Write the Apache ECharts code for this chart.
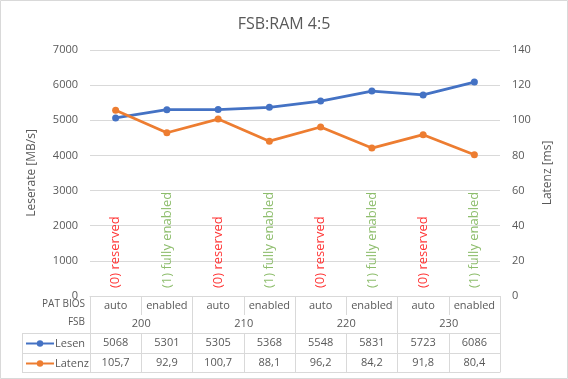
<!DOCTYPE html>
<html>
<head>
<meta charset="utf-8">
<script src="https://cdn.jsdelivr.net/npm/echarts@6/dist/echarts.min.js"></script>
<style>html,body{margin:0;padding:0;background:#fff}#c{width:568px;height:379px}</style>
</head>
<body>
<div id="c"></div>
<script>
const titleText = 'FSB:RAM 4:5';
const patBios = ['auto','enabled','auto','enabled','auto','enabled','auto','enabled'];
const fsbGroups = ['200','210','220','230'];
const lesen = [5068, 5301, 5305, 5368, 5548, 5831, 5723, 6086];
const latenz = [105.7, 92.9, 100.7, 88.1, 96.2, 84.2, 91.8, 80.4];
const patLabels = ['(0) reserved','(1) fully enabled','(0) reserved','(1) fully enabled','(0) reserved','(1) fully enabled','(0) reserved','(1) fully enabled'];
const leftTicks = {min: 0, max: 7000, interval: 1000};
const rightTicks = {min: 0, max: 140, interval: 20};

const FONT = '"Open Sans", "Noto Sans", sans-serif';
const TXT = '#595959';
const GRID = '#D9D9D9';
const fmtDe = v => String(v).replace('.', ',');

const chart = echarts.init(document.getElementById('c'), null, {renderer: 'canvas'});

const baseX = {
  type: 'category', gridIndex: 0, position: 'bottom', boundaryGap: true,
  axisLine: {show: true, lineStyle: {color: GRID, width: 1}},
  axisTick: {show: true, interval: 0, alignWithLabel: false, lineStyle: {color: GRID, width: 1}},
  axisLabel: {interval: 0, color: TXT, fontSize: 11, fontFamily: FONT},
  splitLine: {show: false}
};

const option = {
  animation: false,
  textStyle: {fontFamily: FONT},
  title: {
    text: titleText, left: 'center', top: 11,
    textStyle: {fontSize: 16, fontWeight: 'normal', color: TXT, fontFamily: FONT}
  },
  legend: {
    orient: 'vertical', left: 20, top: 333, itemWidth: 28, itemHeight: 8, itemGap: 9,
    data: ['Lesen', 'Latenz'],
    textStyle: {fontSize: 11, color: TXT, fontFamily: FONT, padding: [0,0,0,-4]}
  },
  grid: {left: 90, right: 68, top: 50, bottom: 83, containLabel: false},
  xAxis: [
    Object.assign({}, baseX, {
      data: patBios,
      axisTick: Object.assign({}, baseX.axisTick, {length: 19}),
      axisLabel: Object.assign({}, baseX.axisLabel, {margin: 4})
    }),
    Object.assign({}, baseX, {
      data: fsbGroups,
      axisLine: {show: false},
      axisTick: Object.assign({}, baseX.axisTick, {length: 37}),
      axisLabel: Object.assign({}, baseX.axisLabel, {margin: 22})
    }),
    Object.assign({}, baseX, {
      data: lesen.map(String), offset: 37,
      axisTick: Object.assign({}, baseX.axisTick, {length: 20}),
      axisLabel: Object.assign({}, baseX.axisLabel, {margin: 4})
    }),
    Object.assign({}, baseX, {
      data: latenz.map(fmtDe), offset: 57,
      axisTick: Object.assign({}, baseX.axisTick, {length: 19}),
      axisLabel: Object.assign({}, baseX.axisLabel, {margin: 4})
    }),
    Object.assign({}, baseX, {
      data: patBios.map(() => ''), offset: 76,
      axisTick: {show: false},
      axisLabel: {show: false}
    })
  ],
  yAxis: [
    {
      type: 'value', position: 'left', min: leftTicks.min, max: leftTicks.max, interval: leftTicks.interval,
      name: 'Leserate [MB/s]', nameLocation: 'middle', nameRotate: 90, nameGap: 52,
      nameTextStyle: {color: TXT, fontSize: 12, fontFamily: FONT},
      axisLine: {show: false}, axisTick: {show: false},
      axisLabel: {margin: 12, color: TXT, fontSize: 11, fontFamily: FONT, formatter: v => String(v)},
      splitLine: {show: true, lineStyle: {color: GRID, width: 1}}
    },
    {
      type: 'value', position: 'right', min: rightTicks.min, max: rightTicks.max, interval: rightTicks.interval,
      name: 'Latenz [ms]', nameLocation: 'middle', nameRotate: 90, nameGap: 37,
      nameTextStyle: {color: TXT, fontSize: 12, fontFamily: FONT},
      axisLine: {show: false}, axisTick: {show: false},
      axisLabel: {margin: 12, color: TXT, fontSize: 11, fontFamily: FONT, formatter: v => String(v)},
      splitLine: {show: false}
    }
  ],
  series: [
    {
      name: 'Lesen', type: 'line', xAxisIndex: 0, yAxisIndex: 0, data: lesen,
      color: '#4472C4', symbol: 'circle', symbolSize: 7,
      lineStyle: {width: 2.75, color: '#4472C4'}, itemStyle: {color: '#4472C4'}
    },
    {
      name: 'Latenz', type: 'line', xAxisIndex: 0, yAxisIndex: 1, data: latenz,
      color: '#ED7D31', symbol: 'circle', symbolSize: 7,
      lineStyle: {width: 2.75, color: '#ED7D31'}, itemStyle: {color: '#ED7D31'}
    },
    {
      name: 'PAT', type: 'scatter', xAxisIndex: 0, yAxisIndex: 0, symbolSize: 0, silent: true,
      data: patLabels.map((t, i) => ({
        value: 0,
        label: {color: t.indexOf('(0)') === 0 ? '#FF0000' : '#70AD47'}
      })),
      label: {
        show: true, position: 'top', distance: 8, rotate: 90, align: 'left', verticalAlign: 'middle',
        fontSize: 13, fontFamily: FONT,
        formatter: p => patLabels[p.dataIndex]
      }
    }
  ],
  graphic: [
    {type: 'rect', shape: {x: 0.5, y: 0.5, width: 567, height: 378}, style: {fill: 'none', stroke: GRID, lineWidth: 1}, silent: true},
    {type: 'line', shape: {x1: 22.5, y1: 333, x2: 22.5, y2: 372.5}, style: {stroke: GRID, lineWidth: 1}},
    {type: 'line', shape: {x1: 22, y1: 333.5, x2: 90, y2: 333.5}, style: {stroke: GRID, lineWidth: 1}},
    {type: 'line', shape: {x1: 22, y1: 353.5, x2: 90, y2: 353.5}, style: {stroke: GRID, lineWidth: 1}},
    {type: 'line', shape: {x1: 22, y1: 372.5, x2: 90, y2: 372.5}, style: {stroke: GRID, lineWidth: 1}},
    {type: 'text', right: 483, top: 299, style: {text: 'PAT BIOS', fill: TXT, fontSize: 10, fontFamily: FONT, textAlign: 'right'}},
    {type: 'text', right: 483, top: 317, style: {text: 'FSB', fill: TXT, fontSize: 10, fontFamily: FONT, textAlign: 'right'}}
  ]
};
chart.setOption(option);
</script>
</body>
</html>
